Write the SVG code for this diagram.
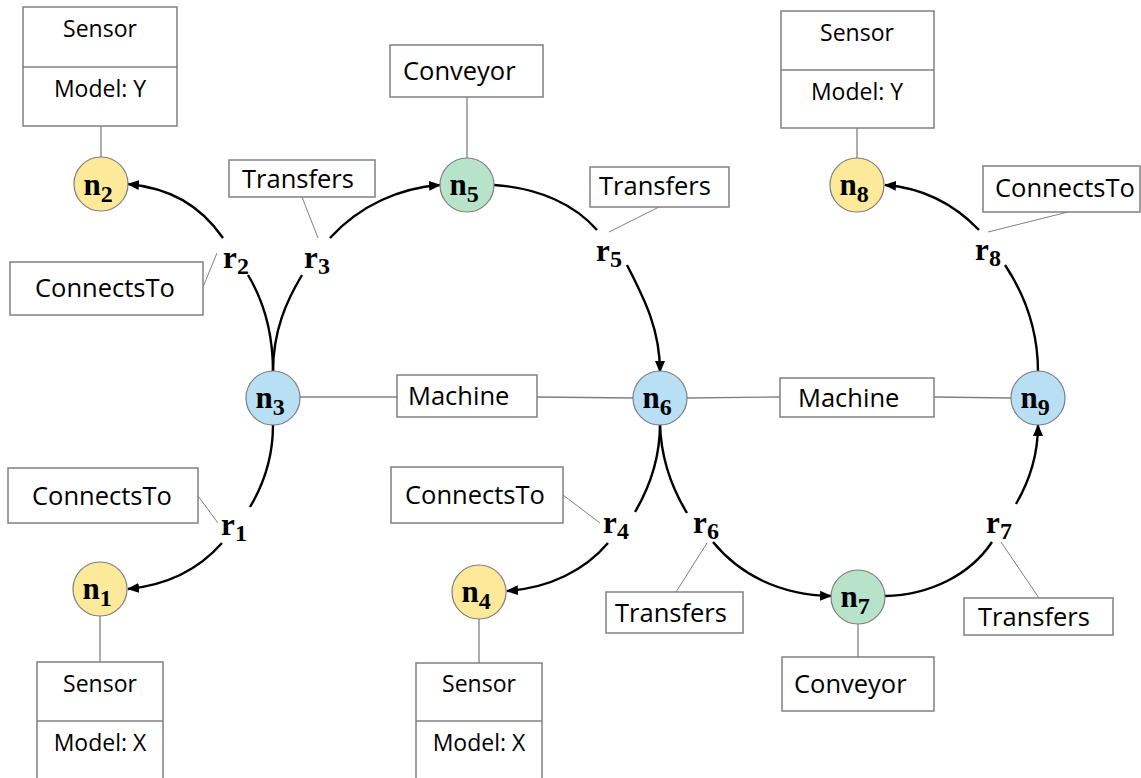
<svg xmlns="http://www.w3.org/2000/svg" width="1141" height="778" viewBox="0 0 1141 778">
<style>
.box{fill:#fff;stroke:#808080;stroke-width:1.5}
.att{stroke:#808080;stroke-width:1.3;fill:none}
.lead{stroke:#808080;stroke-width:1;fill:none}
.edge{stroke:#000;stroke-width:2.4;fill:none}
.yel{fill:#FDE99A;stroke:#7f7f7f;stroke-width:1.2}
.blu{fill:#B9DFF4;stroke:#7f7f7f;stroke-width:1.2}
.grn{fill:#B7E3CB;stroke:#7f7f7f;stroke-width:1.2}
.t{font-family:"Open Sans","Liberation Sans",sans-serif;font-size:25.5px;fill:#000}
.ts{font-family:"Open Sans","Liberation Sans",sans-serif;font-size:23px;fill:#000;text-anchor:middle}
.m{font-family:"Liberation Serif","DejaVu Serif",serif;font-weight:bold;font-size:31px;fill:#000;text-anchor:middle}
.sub{font-size:24px}
</style>
<defs>
<marker id="ah" markerUnits="userSpaceOnUse" markerWidth="12" markerHeight="10" refX="11" refY="5" orient="auto">
<path d="M0,0 L12,5 L0,10 Z" fill="#000"/>
</marker>
</defs>
<rect width="1141" height="778" fill="#fff"/>

<g id="connectors">
<line class="att" x1="101" y1="126" x2="101" y2="157"/>
<line class="att" x1="467" y1="97" x2="467" y2="158"/>
<line class="att" x1="857" y1="128" x2="857" y2="158"/>
<line class="att" x1="100" y1="616" x2="100" y2="662"/>
<line class="att" x1="479" y1="619" x2="479" y2="663"/>
<line class="att" x1="858" y1="624" x2="858" y2="657"/>
<line class="att" x1="300" y1="397" x2="397" y2="397"/>
<line class="att" x1="537" y1="397" x2="633" y2="398"/>
<line class="att" x1="687" y1="398" x2="780" y2="397"/>
<line class="att" x1="934" y1="397" x2="1011" y2="398"/>
<line class="lead" x1="203" y1="287" x2="217" y2="253"/>
<line class="lead" x1="302" y1="197" x2="318" y2="238"/>
<line class="lead" x1="659" y1="207" x2="609" y2="232"/>
<line class="lead" x1="1068" y1="212" x2="988" y2="232"/>
<line class="lead" x1="198" y1="496" x2="218" y2="523"/>
<line class="lead" x1="563" y1="495" x2="600" y2="523"/>
<line class="lead" x1="676" y1="592" x2="707" y2="543"/>
<line class="lead" x1="1039" y1="598" x2="1001" y2="542"/>
<path class="edge" d="M273,425 C273,455 265,482 250,507"/>
<path class="edge" d="M222,543 C200,568 168,585 128,589" marker-end="url(#ah)"/>
<path class="edge" d="M273,372 C273,330 263,300 248,275"/>
<path class="edge" d="M223,238 C200,205 170,188 128,184" marker-end="url(#ah)"/>
<path class="edge" d="M273,372 C273,330 287,300 302,275"/>
<path class="edge" d="M330,238 C360,205 400,188 440,185" marker-end="url(#ah)"/>
<path class="edge" d="M494,185 C540,188 575,205 597,230"/>
<path class="edge" d="M627,265 C645,300 660,330 660,372" marker-end="url(#ah)"/>
<path class="edge" d="M660,424 C660,460 648,490 635,512"/>
<path class="edge" d="M608,543 C585,570 550,588 507,591" marker-end="url(#ah)"/>
<path class="edge" d="M660,424 C661,460 673,490 687,513"/>
<path class="edge" d="M713,542 C740,575 780,595 831,596" marker-end="url(#ah)"/>
<path class="edge" d="M885,596 C930,595 970,575 992,542"/>
<path class="edge" d="M1016,504 C1030,480 1038,455 1038,425" marker-end="url(#ah)"/>
<path class="edge" d="M1038,372 C1038,330 1025,295 1005,265"/>
<path class="edge" d="M979,230 C955,205 925,188 885,185" marker-end="url(#ah)"/>
</g>

<g id="n1"><circle class="yel" cx="100" cy="589" r="27"/><text class="m" x="97" y="599">n<tspan class="sub" dy="7">1</tspan></text></g>
<g id="n2"><circle class="yel" cx="101" cy="184" r="27"/><text class="m" x="98" y="195">n<tspan class="sub" dy="7">2</tspan></text></g>
<g id="n3"><circle class="blu" cx="273" cy="398" r="27"/><text class="m" x="270" y="408">n<tspan class="sub" dy="7">3</tspan></text></g>
<g id="n4"><circle class="yel" cx="479" cy="592" r="27"/><text class="m" x="476" y="602">n<tspan class="sub" dy="7">4</tspan></text></g>
<g id="n5"><circle class="grn" cx="467" cy="185" r="27"/><text class="m" x="464" y="195">n<tspan class="sub" dy="7">5</tspan></text></g>
<g id="n6"><circle class="blu" cx="660" cy="398" r="27"/><text class="m" x="657" y="408">n<tspan class="sub" dy="7">6</tspan></text></g>
<g id="n7"><circle class="grn" cx="858" cy="597" r="27"/><text class="m" x="855" y="607">n<tspan class="sub" dy="7">7</tspan></text></g>
<g id="n8"><circle class="yel" cx="857" cy="185" r="27"/><text class="m" x="854" y="195">n<tspan class="sub" dy="7">8</tspan></text></g>
<g id="n9"><circle class="blu" cx="1038" cy="398" r="27"/><text class="m" x="1035" y="408">n<tspan class="sub" dy="7">9</tspan></text></g>

<g id="r1"><text class="m" x="234" y="535">r<tspan class="sub" dy="6">1</tspan></text></g>
<g id="r2"><text class="m" x="236" y="268">r<tspan class="sub" dy="6">2</tspan></text></g>
<g id="r3"><text class="m" x="317" y="268">r<tspan class="sub" dy="6">3</tspan></text></g>
<g id="r4"><text class="m" x="616" y="533">r<tspan class="sub" dy="6">4</tspan></text></g>
<g id="r5"><text class="m" x="609" y="261">r<tspan class="sub" dy="6">5</tspan></text></g>
<g id="r6"><text class="m" x="706" y="533">r<tspan class="sub" dy="6">6</tspan></text></g>
<g id="r7"><text class="m" x="999" y="533">r<tspan class="sub" dy="6">7</tspan></text></g>
<g id="r8"><text class="m" x="988" y="260">r<tspan class="sub" dy="6">8</tspan></text></g>

<g id="sensor-n2"><rect class="box" x="23" y="7" width="154" height="119"/><line class="box" x1="23" y1="67" x2="177" y2="67"/><text class="ts" x="100" y="37">Sensor</text><text class="ts" x="100" y="97">Model: Y</text></g>
<g id="sensor-n8"><rect class="box" x="781" y="11" width="153" height="117"/><line class="box" x1="781" y1="70" x2="934" y2="70"/><text class="ts" x="857" y="41">Sensor</text><text class="ts" x="857" y="100">Model: Y</text></g>
<g id="sensor-n1"><rect class="box" x="37" y="662" width="126" height="130"/><line class="box" x1="37" y1="721" x2="163" y2="721"/><text class="ts" x="100" y="692">Sensor</text><text class="ts" x="100" y="751">Model: X</text></g>
<g id="sensor-n4"><rect class="box" x="416" y="663" width="126" height="130"/><line class="box" x1="416" y1="721" x2="542" y2="721"/><text class="ts" x="479" y="692">Sensor</text><text class="ts" x="479" y="751">Model: X</text></g>

<g id="conveyor-n5"><rect class="box" x="390" y="45" width="153" height="52"/><text class="t" x="403" y="80">Conveyor</text></g>
<g id="conveyor-n7"><rect class="box" x="782" y="657" width="152" height="54"/><text class="t" x="794" y="693">Conveyor</text></g>
<g id="machine-n3-n6"><rect class="box" x="397" y="375" width="140" height="42"/><text class="t" x="408" y="405">Machine</text></g>
<g id="machine-n6-n9"><rect class="box" x="780" y="378" width="154" height="39"/><text class="t" x="798" y="407">Machine</text></g>

<g id="label-r1"><rect class="box" x="8" y="468" width="190" height="55"/><text class="t" x="32" y="505">ConnectsTo</text></g>
<g id="label-r2"><rect class="box" x="10" y="262" width="193" height="53"/><text class="t" x="35" y="297">ConnectsTo</text></g>
<g id="label-r3"><rect class="box" x="229" y="160" width="146" height="37"/><text class="t" x="242" y="188">Transfers</text></g>
<g id="label-r4"><rect class="box" x="391" y="467" width="172" height="56"/><text class="t" x="405" y="504">ConnectsTo</text></g>
<g id="label-r5"><rect class="box" x="590" y="167" width="139" height="40"/><text class="t" x="599" y="195">Transfers</text></g>
<g id="label-r6"><rect class="box" x="606" y="592" width="137" height="41"/><text class="t" x="615" y="622">Transfers</text></g>
<g id="label-r7"><rect class="box" x="964" y="598" width="149" height="37"/><text class="t" x="978" y="626">Transfers</text></g>
<g id="label-r8"><rect class="box" x="983" y="166" width="157" height="46"/><text class="t" x="995" y="197">ConnectsTo</text></g>
</svg>
